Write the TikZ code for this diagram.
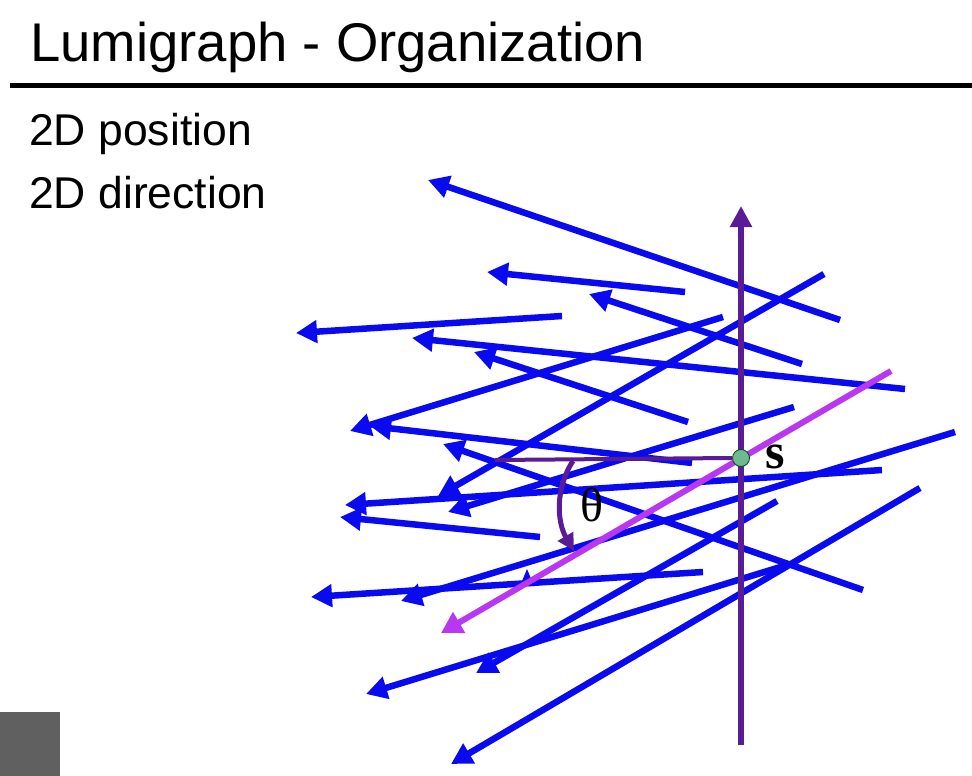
\documentclass[tikz,border=0pt]{standalone}
\usepackage{fontspec}
\setmainfont{Liberation Sans}
\newfontfamily\serifb{Liberation Serif}
\usetikzlibrary{arrows.meta}
\definecolor{rayblue}{RGB}{10,10,240}
\definecolor{axpurple}{RGB}{88,28,150}
\definecolor{magray}{RGB}{185,55,240}
\definecolor{dotgreen}{RGB}{110,185,145}
\tikzset{
  ray/.style={draw=rayblue,line width=6.5pt,-{Triangle[length=21pt,width=22pt]}},
  axis/.style={draw=axpurple,line width=5.5pt},
  maray/.style={draw=magray,line width=6pt,-{Triangle[length=21pt,width=23pt]}},
  txt/.style={inner sep=0pt,anchor=base west},
}
\begin{document}
\begin{tikzpicture}[x=1pt,y=-1pt]
\path[use as bounding box,fill=white] (0,0) rectangle (972,776);
% title
\node[txt,font=\fontsize{54.5}{60}\selectfont] (title) at (30,62) {Lumigraph - Organization};
\draw[line width=4.5pt] (10,85.5) -- (972,85.5);
\node[txt,font=\fontsize{44.5}{50}\selectfont] (pos) at (29,145) {2D position};
\node[txt,font=\fontsize{44.5}{50}\selectfont] (dir) at (29,208) {2D direction};
% corner artifact
\fill[gray!75!black] (0,712) rectangle (60,776);
% ray end points
\coordinate (t1) at (840,320); \coordinate (h1) at (428,180);
\coordinate (t2) at (685,292); \coordinate (h2) at (487,272);
\coordinate (t3) at (802,364); \coordinate (h3) at (589,294);
\coordinate (t4) at (562,316); \coordinate (h4) at (296,333);
\coordinate (t5) at (905,389); \coordinate (h5) at (412,338);
\coordinate (t6) at (688,422); \coordinate (h6) at (474,352);
\coordinate (t7) at (824,274); \coordinate (h7) at (438,496);
\coordinate (t8) at (723,317); \coordinate (h8) at (350,431);
\coordinate (t9) at (692,463); \coordinate (h9) at (370,426);
\coordinate (t10) at (794,407); \coordinate (h10) at (448,512);
\coordinate (t11) at (882,470); \coordinate (h11) at (345,505);
\coordinate (t12) at (540,537); \coordinate (h12) at (340,517);
\coordinate (t13) at (703,572); \coordinate (h13) at (311,597);
\coordinate (t14) at (955,432); \coordinate (h14) at (401,601);
\coordinate (t15) at (777,501); \coordinate (h15) at (476,673);
\coordinate (t16) at (787,565); \coordinate (h16) at (366,694);
\coordinate (t17) at (920,488); \coordinate (h17) at (451,764);
\coordinate (t18) at (863,590); \coordinate (h18) at (443,444);
\foreach \i in {1,...,18} {\draw[ray] (t\i) -- (h\i);}
% small stray arrowhead
\fill[rayblue] (527,569) -- (534,586) -- (520,586) -- cycle;
% magenta ray
\coordinate (mt) at (891,371); \coordinate (mh) at (441,633);
\draw[maray] (mt) -- (mh);
% s axis
\coordinate (sb) at (741,745); \coordinate (stop) at (741,206);
\draw[axis,-{Triangle[length=21pt,width=21pt]}] (sb) -- (stop);
\coordinate (hl) at (495,460);
\node[circle,draw=black!70!green,line width=0.8pt,fill=dotgreen,minimum size=17pt,inner sep=0pt] (s) at (741,458) {};
\draw[draw=axpurple,line width=4pt] (hl) -- (s.west);
\node[font=\serifb\bfseries\fontsize{50}{54}\selectfont,inner sep=0pt] (slab) at (775,457) {s};
% theta arc
\coordinate (a0) at (573,461); \coordinate (a1) at (574,551);
\draw[draw=axpurple,line width=5pt,-{Triangle[length=17pt,width=17pt]}] (a0) .. controls (555,488) and (557,522) .. (a1);
\node[font=\serifb\fontsize{48}{52}\selectfont,inner sep=0pt] (th) at (592,505) {θ};
\end{tikzpicture}
\end{document}
